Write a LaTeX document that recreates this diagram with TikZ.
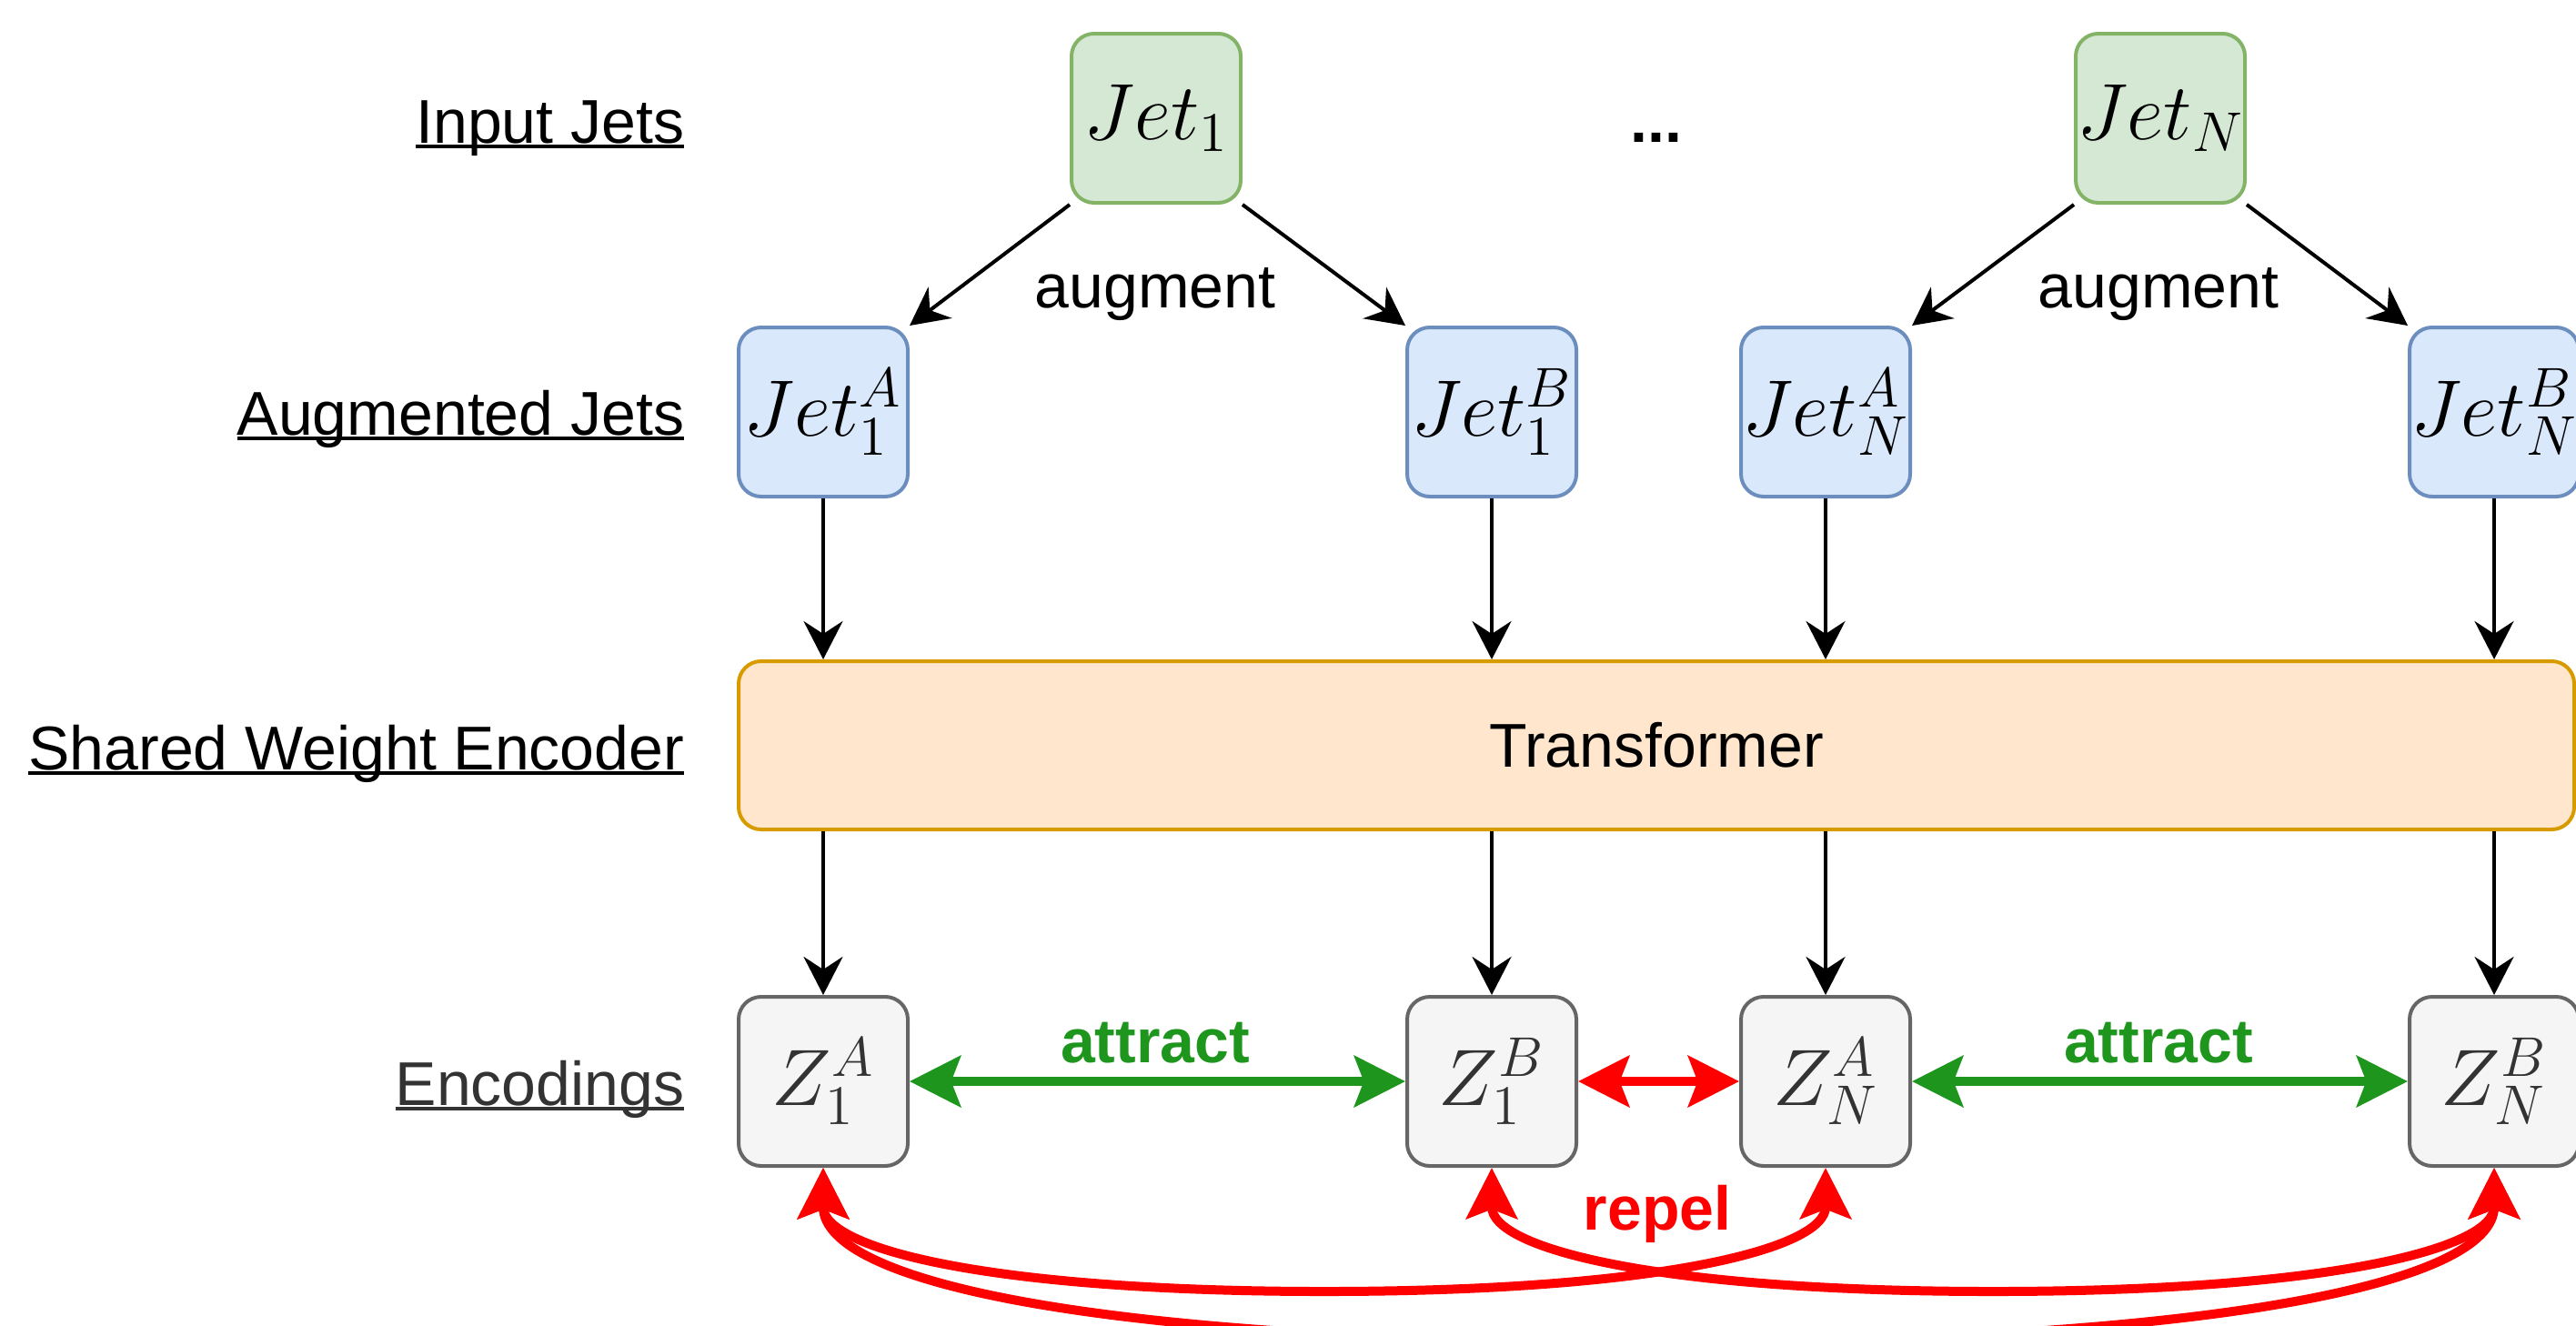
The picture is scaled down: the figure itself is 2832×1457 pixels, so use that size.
\documentclass[tikz,border=0pt]{standalone}
\usepackage{fix-cm}
\usepackage[no-math]{fontspec}
\setmainfont{Liberation Sans}
\usetikzlibrary{arrows.meta}

\definecolor{inFill}{HTML}{D5E8D4}
\definecolor{inLine}{HTML}{82B366}
\definecolor{augFill}{HTML}{DAE8FC}
\definecolor{augLine}{HTML}{6C8EBF}
\definecolor{encFill}{HTML}{F5F5F5}
\definecolor{encLine}{HTML}{666666}
\definecolor{encText}{HTML}{333333}
\definecolor{tfFill}{HTML}{FFE6CC}
\definecolor{tfLine}{HTML}{D79B00}
\definecolor{attrGreen}{RGB}{30,150,30}
\definecolor{repRed}{RGB}{255,0,0}

% text with a rule just under the baseline
\newcommand\ulabel[1]{\setbox0=\hbox{#1}\rlap{\rule[-1.6pt]{\wd0}{1.1pt}}\box0}

\tikzset{
  txt/.style={inner sep=0pt, font=\fontsize{17pt}{20pt}\selectfont},
  boldtxt/.style={txt, font=\fontsize{17pt}{20pt}\selectfont\bfseries},
  rowlabel/.style={txt, anchor=base east},
  box/.style={rounded corners=6.2pt, line width=1pt, minimum width=46.5pt,
    minimum height=46.5pt, inner sep=0pt, font=\fontsize{22pt}{26pt}\selectfont},
  jetin/.style={box, fill=inFill, draw=inLine},
  jetaug/.style={box, fill=augFill, draw=augLine},
  enc/.style={box, fill=encFill, draw=encLine, text=encText},
  tf/.style={rounded corners=6.2pt, line width=1pt, fill=tfFill, draw=tfLine,
    minimum width=504.5pt, minimum height=46.25pt, inner sep=0pt,
    font=\fontsize{17pt}{20pt}\selectfont},
  flow/.style={line width=1pt, -{Stealth[length=10.5pt,width=10.75pt,inset=3.5pt]}},
  pair/.style={line width=2.5pt,
    {Stealth[length=14pt,width=14pt,inset=2.6pt]}-{Stealth[length=14pt,width=14pt,inset=2.6pt]}},
  attr/.style={pair, draw=attrGreen},
  rep/.style={pair, draw=repRed},
}

\begin{document}
\begin{tikzpicture}[x=0.25pt, y=-0.25pt]
\useasboundingbox (0,0) rectangle (2832,1457);
\clip (0,0) rectangle (2832,1457);

% row labels
\node[rowlabel] (lin)  at (753,157)  {\ulabel{Input Jets}};
\node[rowlabel] (laug) at (753,478)  {\ulabel{Augmented Jets}};
\node[rowlabel] (lenc) at (753,846)  {\ulabel{Shared Weight Encoder}};
\node[rowlabel, text=encText] (lz) at (753,1215) {\ulabel{Encodings}};

% input jets
\node[jetin] (J1) at (1271,130) {$Jet_1$};
\node[jetin] (JN) at (2375,130) {$Jet_N$};
\node[boldtxt, anchor=base] (dots) at (1821,156) {...};

% augmented jets
\node[jetaug] (J1A) at (905,453)  {$Jet_1^A$};
\node[jetaug] (J1B) at (1640,453) {$Jet_1^B$};
\node[jetaug] (JNA) at (2007,453) {$Jet_N^A$};
\node[jetaug] (JNB) at (2742,453) {$Jet_N^B$};

% shared encoder
\node[tf] (T) at (1821,819.5) {Transformer};

% encodings
\node[enc] (Z1A) at (905,1189)  {$Z_1^A$};
\node[enc] (Z1B) at (1640,1189) {$Z_1^B$};
\node[enc] (ZNA) at (2007,1189) {$Z_N^A$};
\node[enc] (ZNB) at (2742,1189) {$Z_N^B$};

% augmentation
\draw[flow] (J1.south west) -- (J1A.north east);
\draw[flow] (J1.south east) -- (J1B.north west);
\draw[flow] (JN.south west) -- (JNA.north east);
\draw[flow] (JN.south east) -- (JNB.north west);
\node[txt, anchor=base] (aug1) at (1270,338) {augment};
\node[txt, anchor=base] (augN) at (2373,338) {augment};

% through the encoder
\foreach \j/\z in {J1A/Z1A, J1B/Z1B, JNA/ZNA, JNB/ZNB} {
  \draw[flow] (\j.south) -- (\j.south |- T.north);
  \draw[flow] (\z.north |- T.south) -- (\z.north);
}

% contrastive pairs
\draw[attr] (Z1A.east) -- (Z1B.west);
\draw[attr] (ZNA.east) -- (ZNB.west);
\node[boldtxt, anchor=base, text=attrGreen] (at1) at (1270,1168) {attract};
\node[boldtxt, anchor=base, text=attrGreen] (atN) at (2373,1168) {attract};

\draw[rep] (Z1B.east) -- (ZNA.west);
\draw[rep] (Z1A.south) .. controls (905,1373.3) and (1088.7,1420) .. (1456,1420)
                       .. controls (1823.3,1420) and (2007,1373.3) .. (ZNA.south);
\draw[rep] (Z1B.south) .. controls (1640,1373.3) and (1823.7,1420) .. (2191,1420)
                       .. controls (2558.3,1420) and (2742,1373.3) .. (ZNB.south);
\draw[rep] (Z1A.south) .. controls (905,1410.7) and (1211.2,1476) .. (1823.5,1476)
                       .. controls (2435.8,1476) and (2742,1410.7) .. (ZNB.south);
\node[boldtxt, anchor=base, text=repRed] (rp) at (1822,1352) {repel};
\end{tikzpicture}
\end{document}
